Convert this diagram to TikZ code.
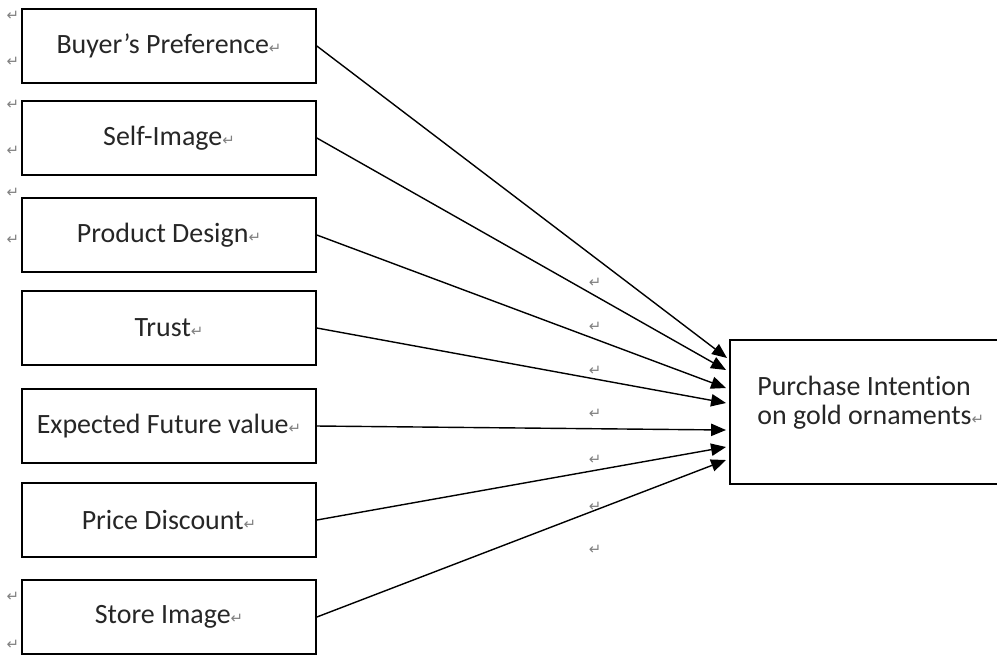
\documentclass[tikz,border=0pt]{standalone}
\usepackage{fontspec}
\setmainfont[Ligatures=NoCommon]{Carlito}
\newfontfamily\retfont{DejaVu Sans}
\usetikzlibrary{arrows.meta}

\newcommand{\retmark}{{\retfont\fontsize{8.5}{8.5}\selectfont\color{black!50}\symbol{"21B5}}}

\tikzset{
	factor/.style={draw, line width=1pt, minimum width=5.88cm, minimum height=1.48cm, inner sep=0pt,
		font=\fontsize{15.9}{19}\selectfont, text=black!85},
	link/.style={line width=0.8pt, -{Triangle[length=8.5pt,width=7pt]}},
	retm/.style={inner sep=0pt}
}

\begin{document}
\begin{tikzpicture}[x=0.02cm, y=-0.02cm]

\useasboundingbox (0,0) rectangle (997,654);

% factors on the left
\node[factor] (buyer)  at (169, 46)  {Buyer’s Preference\retmark};
\node[factor] (self)   at (169,138)  {Self-Image\retmark};
\node[factor] (design) at (169,235)  {Product Design\retmark};
\node[factor] (trust)  at (169,328)  {Trust\retmark};
\node[factor] (future) at (169,426)  {Expected Future value\retmark};
\node[factor] (price)  at (169,520)  {Price Discount\retmark};
\node[factor] (store)  at (169,617)  {Store Image\retmark};

% outcome
\node[draw, line width=1pt, minimum width=5.46cm, minimum height=2.88cm, inner sep=0pt] (intent) at (866.5,412) {};
\node[anchor=west, align=left, inner sep=0pt, font=\fontsize{15.9}{16.5}\selectfont, text=black!85] (intentlabel) at (757,403)
	{Purchase Intention\\on gold ornaments\retmark};

\coordinate (t1) at (727,358);
\coordinate (t2) at (726,370);
\coordinate (t3) at (726,388);
\coordinate (t4) at (726,403);
\coordinate (t5) at (726,430);
\coordinate (t6) at (726,447);
\coordinate (t7) at (726,460);

\foreach \src/\dst in {buyer/t1, self/t2, design/t3, trust/t4, future/t5, price/t6, store/t7}
{
	\draw[link] (\src.east) -- (\dst);
}

% stray paragraph marks
\foreach \y [count=\i] in {283, 327, 371, 414, 460, 507, 550}
{
	\node[retm] (mid\i) at (595,\y) {\retmark};
}

\foreach \y [count=\i] in {16, 62, 105, 151, 193, 240, 597, 645}
{
	\node[retm] (edge\i) at (13,\y) {\retmark};
}

\end{tikzpicture}
\end{document}
